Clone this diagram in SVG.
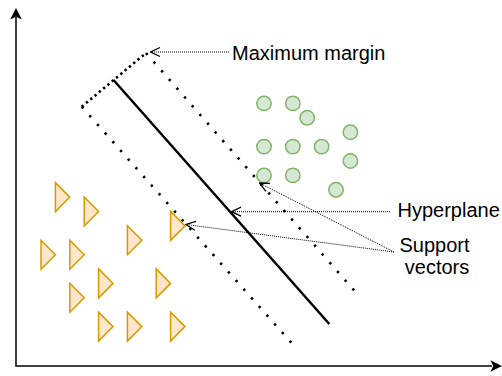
<svg xmlns="http://www.w3.org/2000/svg" width="502" height="376" viewBox="0 0 502 376">
<style>
.tri{fill:#ffe6cc;stroke:#d79b00;stroke-width:1.5;stroke-linejoin:miter}
.dot{fill:#d5e8d4;stroke:#82b366;stroke-width:1.5}
.axis{stroke:#000;stroke-width:1.5;fill:none}
.margin{stroke:#000;stroke-width:2.6;fill:none;stroke-dasharray:2.4 9.2}
.width{stroke:#000;stroke-width:2.6;fill:none;stroke-dasharray:2.4 3.2}
.plane{stroke:#000;stroke-width:2.5;fill:none}
.lead{stroke:#000;stroke-width:1;fill:none;stroke-dasharray:1 1}
.lbl{font-family:"Liberation Sans",Arial,Helvetica,sans-serif;font-size:20px;fill:#000}
</style>
<defs>
<marker id="open" viewBox="-11 -6 12 12" markerWidth="12" markerHeight="12" refX="0" refY="0" orient="auto" markerUnits="userSpaceOnUse">
<path d="M-9.5,-4.5 L0,0 L-9.5,4.5" fill="none" stroke="#000" stroke-width="1.3"/>
</marker>
</defs>
<rect width="502" height="376" fill="#fff"/>
<g id="axes">
<path class="axis" d="M16,17 L16,366 L492,366"/>
<path d="M16,8 L21.8,19.5 L16,16.8 L10.2,19.5 Z" fill="#000"/>
<path d="M502,366 L490.5,371.8 L493.2,366 L490.5,360.2 Z" fill="#000"/>
</g>
<g id="separators">
<path class="margin" d="M81.7,106.7 L296,348"/>
<path class="margin" d="M146,53 L359.3,296.3"/>
<path class="width" d="M81.7,106.7 L146,53"/>
<path class="plane" d="M113.5,80 L329.3,324"/>
</g>
<g id="class-a">
<circle class="dot" cx="264" cy="103.4" r="7.2"/>
<circle class="dot" cx="292.8" cy="103.4" r="7.2"/>
<circle class="dot" cx="307.2" cy="117.8" r="7.2"/>
<circle class="dot" cx="350.4" cy="132.2" r="7.2"/>
<circle class="dot" cx="264" cy="146.6" r="7.2"/>
<circle class="dot" cx="292.8" cy="146.6" r="7.2"/>
<circle class="dot" cx="321.6" cy="146.6" r="7.2"/>
<circle class="dot" cx="350.4" cy="161" r="7.2"/>
<circle class="dot" cx="264" cy="175.4" r="7.2"/>
<circle class="dot" cx="292.8" cy="175.4" r="7.2"/>
<circle class="dot" cx="336" cy="189.8" r="7.2"/>
</g>
<g id="class-b">
<path class="tri" d="M55.4,182.6 l14.4,14.5 l-14.4,14.5 Z"/>
<path class="tri" d="M84.2,197 l14.4,14.5 l-14.4,14.5 Z"/>
<path class="tri" d="M127.4,225.8 l14.4,14.5 l-14.4,14.5 Z"/>
<path class="tri" d="M170.6,211.4 l14.4,14.5 l-14.4,14.5 Z"/>
<path class="tri" d="M41,240.2 l14.4,14.5 l-14.4,14.5 Z"/>
<path class="tri" d="M69.8,240.2 l14.4,14.5 l-14.4,14.5 Z"/>
<path class="tri" d="M98.6,268.9 l14.4,14.5 l-14.4,14.5 Z"/>
<path class="tri" d="M156.2,268.9 l14.4,14.5 l-14.4,14.5 Z"/>
<path class="tri" d="M69.8,283.3 l14.4,14.5 l-14.4,14.5 Z"/>
<path class="tri" d="M98.6,312.1 l14.4,14.5 l-14.4,14.5 Z"/>
<path class="tri" d="M127.4,312.1 l14.4,14.5 l-14.4,14.5 Z"/>
<path class="tri" d="M170.6,312.1 l14.4,14.5 l-14.4,14.5 Z"/>
</g>
<g id="connectors">
<path class="lead" d="M229,52 L150.5,52" marker-end="url(#open)"/>
<path class="lead" d="M390,211.7 L231.5,211.7" marker-end="url(#open)"/>
<path class="lead" d="M394,252 L259.5,183" marker-end="url(#open)"/>
<path class="lead" d="M394,252 L186,224.5" marker-end="url(#open)"/>
</g>
<g id="label-margin"><text class="lbl" x="232" y="59.5">Maximum margin</text></g>
<g id="label-hyperplane"><text class="lbl" x="397.5" y="216.7">Hyperplane</text></g>
<g id="label-support"><text class="lbl" x="434.5" y="252" text-anchor="middle">Support</text><text class="lbl" x="437" y="274" text-anchor="middle">vectors</text></g>
</svg>
